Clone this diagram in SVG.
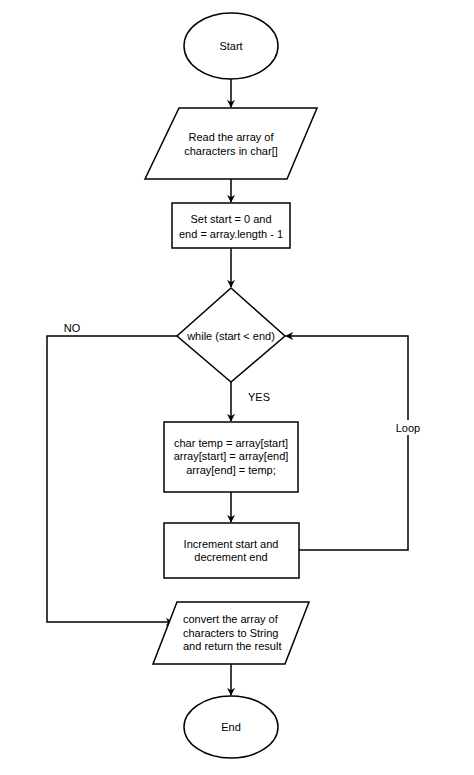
<svg xmlns="http://www.w3.org/2000/svg" width="474" height="775" viewBox="0 0 474 775">
<defs>
<marker id="ah" viewBox="0 0 10 10" refX="9" refY="5" markerWidth="8" markerHeight="8" markerUnits="userSpaceOnUse" orient="auto">
<path d="M0,0 L10,5 L0,10 L3,5 Z" fill="#000"/>
</marker>
<style>
.s{fill:#fff;stroke:#000;stroke-width:1.5}
.c{fill:none;stroke:#000;stroke-width:1.5}
text{font-family:"Liberation Sans",Arial,sans-serif;font-size:11px;fill:#000}
.m{text-anchor:middle}
</style>
</defs>
<rect width="474" height="775" fill="#fff"/>
<g id="connectors">
<path class="c" d="M231,79 V107" marker-end="url(#ah)"/>
<path class="c" d="M231,179 V202" marker-end="url(#ah)"/>
<path class="c" d="M231,248 V287" marker-end="url(#ah)"/>
<path class="c" d="M231,382 V421" marker-end="url(#ah)"/>
<path class="c" d="M231,492 V522" marker-end="url(#ah)"/>
<path class="c" d="M177,336 H47 V622 H173" marker-end="url(#ah)"/>
<path class="c" d="M299,550 H408 V336 H286" marker-end="url(#ah)"/>
<path class="c" d="M231,664 V695" marker-end="url(#ah)"/>
<text x="72" y="332" class="m">NO</text>
<text x="259" y="401" class="m">YES</text>
<rect x="392" y="420" width="32" height="15" fill="#fff"/>
<text x="408" y="432" class="m">Loop</text>
</g>
<g id="start">
<ellipse class="s" cx="231" cy="46" rx="47" ry="33"/>
<text x="231" y="50" class="m">Start</text>
</g>
<g id="read">
<polygon class="s" points="179,108 317,108 287,179 145,179"/>
<text x="231" y="141" class="m">Read the array of</text>
<text x="231" y="155" class="m">characters in char[]</text>
</g>
<g id="init">
<rect class="s" x="172" y="203" width="118" height="45"/>
<text x="231" y="223" class="m">Set start = 0 and</text>
<text x="231" y="238" class="m">end = array.length - 1</text>
</g>
<g id="while">
<polygon class="s" points="231,288 285,336 231,382 177,336"/>
<text x="231" y="340" class="m">while (start &lt; end)</text>
</g>
<g id="swap">
<rect class="s" x="164" y="422" width="134" height="70"/>
<text x="231" y="447" class="m">char temp = array[start]</text>
<text x="231" y="460" class="m">array[start] = array[end]</text>
<text x="231" y="474" class="m">array[end] = temp;</text>
</g>
<g id="increment">
<rect class="s" x="164" y="523" width="135" height="55"/>
<text x="231" y="548" class="m">Increment start and</text>
<text x="231" y="561" class="m">decrement end</text>
</g>
<g id="convert">
<polygon class="s" points="177,602 309,602 285,664 153,664"/>
<text x="183" y="623">convert the array of</text>
<text x="183" y="637">characters to String</text>
<text x="183" y="650">and return the result</text>
</g>
<g id="end">
<ellipse class="s" cx="231" cy="727" rx="47" ry="31"/>
<text x="231" y="731" class="m">End</text>
</g>
</svg>
